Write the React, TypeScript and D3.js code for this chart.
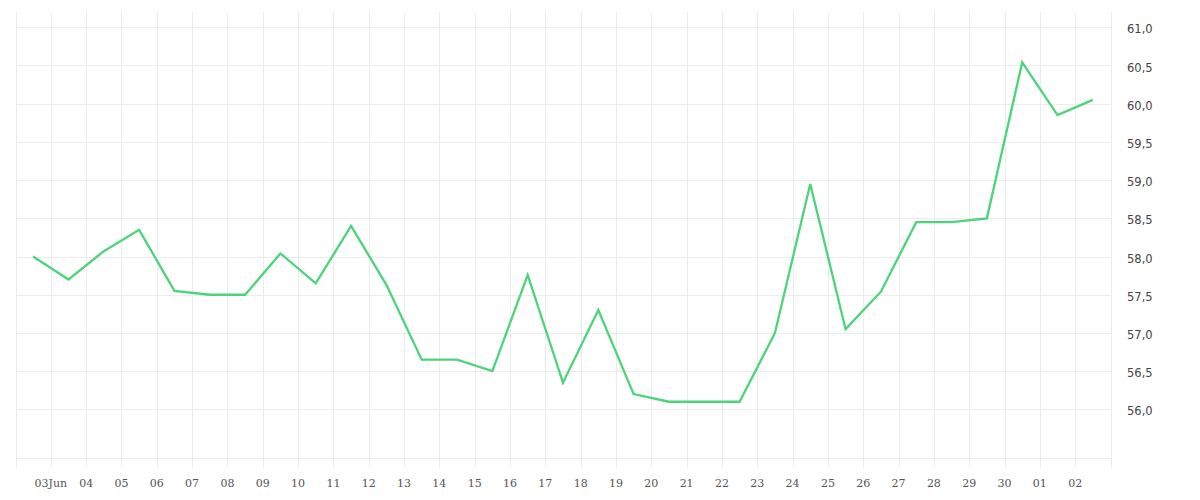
import React from "react";
import * as d3 from "d3";

const days: string[] = [
  "2021-06-02", "2021-06-03", "2021-06-04", "2021-06-05", "2021-06-06", "2021-06-07",
  "2021-06-08", "2021-06-09", "2021-06-10", "2021-06-11", "2021-06-12", "2021-06-13",
  "2021-06-14", "2021-06-15", "2021-06-16", "2021-06-17", "2021-06-18", "2021-06-19",
  "2021-06-20", "2021-06-21", "2021-06-22", "2021-06-23", "2021-06-24", "2021-06-25",
  "2021-06-26", "2021-06-27", "2021-06-28", "2021-06-29", "2021-06-30", "2021-07-01",
  "2021-07-02",
];
const values: number[] = [
  58.0, 57.7, 58.07, 58.35, 57.55, 57.5, 57.5, 58.04, 57.65, 58.4, 57.63, 56.65,
  56.65, 56.5, 57.76, 56.35, 57.3, 56.2, 56.1, 56.1, 56.1, 57.0, 58.95, 57.05,
  57.54, 58.45, 58.45, 58.5, 60.54, 59.85, 60.05,
];
const yTicks: number[] = [56.0, 56.5, 57.0, 57.5, 58.0, 58.5, 59.0, 59.5, 60.0, 60.5, 61.0];
const xDomain: string[] = ["2021-06-02", "2021-07-03"];
const yDomain: number[] = [55.36, 61.2];

const W = 1200;
const H = 500;
const left = 15.5;
const right = 1110.5;
const top = 12;
const bottom = 458.3;

export default function App() {
  const parse = (s: string) => new Date(s + "T00:00:00");
  const x = d3.scaleTime().domain(xDomain.map(parse)).range([left, right]);
  const y = d3.scaleLinear().domain(yDomain).range([bottom, top]);

  const pts = days.map((d, i) => ({ t: new Date(parse(d).getTime() + 12 * 3600 * 1000), v: values[i] }));
  const line = d3
    .line<{ t: Date; v: number }>()
    .x((d) => x(d.t))
    .y((d) => y(d.v));

  const dayTicks = d3.timeDay.range(parse(xDomain[0]), new Date(parse(xDomain[1]).getTime() + 1));
  const fmt = (d: Date) => {
    if (d.getDate() === 3 && d.getMonth() === 5) return "03Jun";
    return d3.timeFormat("%d")(d);
  };
  const labelTicks = dayTicks.slice(1, dayTicks.length - 1);
  const gridColor = "#ececec";
  const fmtY = (v: number) => v.toFixed(1).replace(".", ",");

  return (
    <svg width={W} height={H} style={{ position: "absolute", left: 0, top: 0, display: "block" }}>
      <rect x={0} y={0} width={W} height={H} fill="#ffffff" />
      {dayTicks.map((d, i) => (
        <line
          key={"vg" + i}
          x1={Math.round(x(d)) + 0.5}
          x2={Math.round(x(d)) + 0.5}
          y1={top}
          y2={bottom + 9}
          stroke={gridColor}
          strokeWidth={1}
        />
      ))}
      {yTicks.map((t, i) => (
        <line
          key={"hg" + i}
          x1={left}
          x2={right}
          y1={Math.round(y(t)) + 0.5}
          y2={Math.round(y(t)) + 0.5}
          stroke={gridColor}
          strokeWidth={1}
        />
      ))}
      <line x1={left} x2={right} y1={Math.round(bottom) + 0.5} y2={Math.round(bottom) + 0.5} stroke={gridColor} />
      <path d={line(pts) || ""} fill="none" stroke="#4cd47b" strokeWidth={2.3} strokeLinejoin="miter" />
      {labelTicks.map((d, i) => (
        <text
          key={"xl" + i}
          x={x(d)}
          y={487}
          textAnchor="middle"
          fontFamily="'DejaVu Serif', serif"
          fontSize={11}
          fill="#555"
        >
          {fmt(d)}
        </text>
      ))}
      {yTicks.map((t, i) => (
        <text
          key={"yl" + i}
          x={1127}
          y={y(t) + 2}
          dy="0.35em"
          fontFamily="'DejaVu Sans', sans-serif"
          fontSize={11.5}
          fill="#444"
        >
          {fmtY(t)}
        </text>
      ))}
    </svg>
  );
}
